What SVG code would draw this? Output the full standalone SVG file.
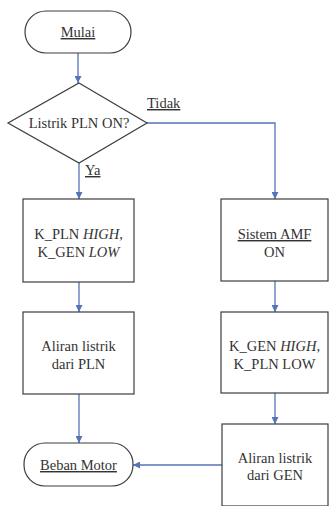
<svg xmlns="http://www.w3.org/2000/svg" width="329" height="506" viewBox="0 0 329 506">
<defs>
<style>
.shape{fill:#ffffff;stroke:#3c3c3c;stroke-width:1.2}
.conn{fill:none;stroke:#5673b8;stroke-width:1.3}
</style>
<marker id="arr" viewBox="0 0 10 10" refX="10" refY="5" markerWidth="7" markerHeight="7" orient="auto" markerUnits="userSpaceOnUse">
<path d="M0,0 L10,5 L0,10 z" fill="#5673b8"/>
</marker>
</defs>
<rect width="329" height="506" fill="#ffffff"/>
<g id="connectors">
<line class="conn" x1="78" y1="53" x2="78" y2="83" marker-end="url(#arr)"/>
<line class="conn" x1="79" y1="163" x2="79" y2="199" marker-end="url(#arr)"/>
<line class="conn" x1="79" y1="282" x2="79" y2="312" marker-end="url(#arr)"/>
<line class="conn" x1="79" y1="394" x2="79" y2="443" marker-end="url(#arr)"/>
<path class="conn" d="M147,123 H275 V199" marker-end="url(#arr)"/>
<line class="conn" x1="275" y1="281" x2="275" y2="312" marker-end="url(#arr)"/>
<line class="conn" x1="275" y1="393" x2="275" y2="424" marker-end="url(#arr)"/>
<line class="conn" x1="222" y1="465" x2="133" y2="465" marker-end="url(#arr)"/>
<text x="147" y="108" font-family="Liberation Serif" font-size="14.5" fill="#333333" text-decoration="underline" style="font-family:'Liberation Serif',serif !important">Tidak</text>
<text x="85" y="175" font-family="Liberation Serif" font-size="14.5" fill="#333333" text-decoration="underline" style="font-family:'Liberation Serif',serif !important">Ya</text>
</g>
<g id="mulai">
<rect class="shape" x="25" y="11" width="106" height="42" rx="21"/>
<text x="78" y="37" text-anchor="middle" font-family="Liberation Serif" font-size="14.5" fill="#333333" text-decoration="underline" style="font-family:'Liberation Serif',serif !important">Mulai</text>
</g>
<g id="decision">
<polygon class="shape" points="79,83 147,123 79,163 8,123"/>
<text x="79" y="128" text-anchor="middle" font-family="Liberation Serif" font-size="14.5" fill="#333333" style="font-family:'Liberation Serif',serif !important">Listrik PLN ON?</text>
</g>
<g id="k-pln-high">
<rect class="shape" x="23" y="199" width="111" height="83"/>
<text x="78.5" y="239" text-anchor="middle" font-family="Liberation Serif" font-size="14.5" fill="#333333" style="font-family:'Liberation Serif',serif !important">K_PLN <tspan font-style="italic">HIGH,</tspan></text>
<text x="78.5" y="257" text-anchor="middle" font-family="Liberation Serif" font-size="14.5" fill="#333333" style="font-family:'Liberation Serif',serif !important">K_GEN <tspan font-style="italic">LOW</tspan></text>
</g>
<g id="aliran-pln">
<rect class="shape" x="23" y="312" width="111" height="82"/>
<text x="78.5" y="351" text-anchor="middle" font-family="Liberation Serif" font-size="14.5" fill="#333333" style="font-family:'Liberation Serif',serif !important">Aliran listrik</text>
<text x="78.5" y="369" text-anchor="middle" font-family="Liberation Serif" font-size="14.5" fill="#333333" style="font-family:'Liberation Serif',serif !important">dari PLN</text>
</g>
<g id="beban-motor">
<rect class="shape" x="24" y="443" width="109" height="43" rx="21"/>
<text x="78.5" y="470" text-anchor="middle" font-family="Liberation Serif" font-size="14.5" fill="#333333" text-decoration="underline" style="font-family:'Liberation Serif',serif !important">Beban Motor</text>
</g>
<g id="sistem-amf">
<rect class="shape" x="221" y="199" width="107" height="82"/>
<text x="274.5" y="239" text-anchor="middle" font-family="Liberation Serif" font-size="14.5" fill="#333333" text-decoration="underline" style="font-family:'Liberation Serif',serif !important">Sistem AMF</text>
<text x="274.5" y="257" text-anchor="middle" font-family="Liberation Serif" font-size="14.5" fill="#333333" style="font-family:'Liberation Serif',serif !important">ON</text>
</g>
<g id="k-gen-high">
<rect class="shape" x="221" y="312" width="107" height="81"/>
<text x="274.5" y="351" text-anchor="middle" font-family="Liberation Serif" font-size="14.5" fill="#333333" style="font-family:'Liberation Serif',serif !important">K_GEN <tspan font-style="italic">HIGH,</tspan></text>
<text x="274.5" y="369" text-anchor="middle" font-family="Liberation Serif" font-size="14.5" fill="#333333" style="font-family:'Liberation Serif',serif !important">K_PLN LOW</text>
</g>
<g id="aliran-gen">
<rect class="shape" x="222" y="424" width="106" height="82"/>
<text x="275" y="463" text-anchor="middle" font-family="Liberation Serif" font-size="14.5" fill="#333333" style="font-family:'Liberation Serif',serif !important">Aliran listrik</text>
<text x="275" y="480" text-anchor="middle" font-family="Liberation Serif" font-size="14.5" fill="#333333" style="font-family:'Liberation Serif',serif !important">dari GEN</text>
</g>
</svg>
